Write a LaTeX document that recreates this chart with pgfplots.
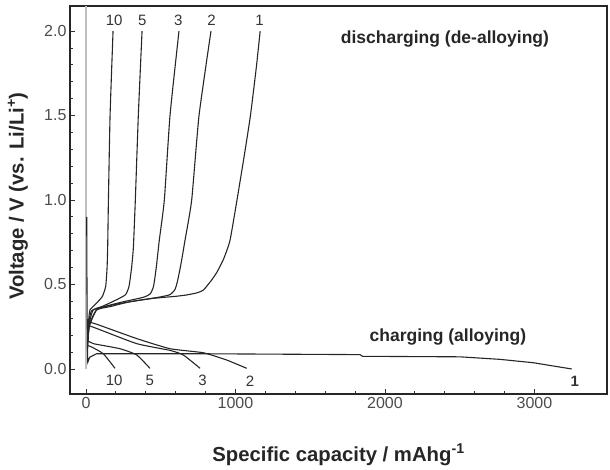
\documentclass[border=0pt]{standalone}
\usepackage{fontspec}
\setmainfont{Liberation Sans}
\usepackage{pgfplots}
\pgfplotsset{compat=1.18}
\pgfplotsset{curve/.style={draw=black!85, solid, line width=1.1bp, smooth, tension=0.3, no marks}}
\begin{document}
\begin{tikzpicture}
\begin{axis}[
  at={(0,0)}, anchor=south west,
  scale only axis, width=537bp, height=388bp,
  xmin=-107, xmax=3485, ymin=-0.148, ymax=2.148,
  axis line style={line width=1.5bp, black!85},
  tick align=inside, xtick pos=bottom, ytick pos=left,
  xtick={0,1000,2000,3000}, ytick={0,0.5,1,1.5,2},
  minor x tick num=4, minor y tick num=4,
  major tick length=5bp, minor tick length=3bp,
  tick style={black!80, line width=0.8bp},
  /pgf/number format/assume math mode=true,
  /pgf/number format/1000 sep={},
  yticklabel style={/pgf/number format/.cd, fixed, fixed zerofill, precision=1},
  ticklabel style={font=\fontsize{16bp}{18bp}\selectfont, text=black!70},
  xlabel={Specific capacity / mAhg\textsuperscript{-1}},
  ylabel={Voltage / V (vs. Li/Li\textsuperscript{+})},
  label style={font=\fontsize{20.3bp}{23bp}\selectfont\bfseries, text=black!85},
  xlabel style={at={(axis description cs:0.5,-0.157)}, anchor=center},
  ylabel style={at={(axis description cs:-0.097,0.51)}, anchor=center},
  clip=true,
]
% gray vertical line at zero capacity
\addplot[draw=black!25, line width=1.2bp, sharp plot, no marks] coordinates {(0,0.0) (0,2.15)};
% ---------- discharging (de-alloying) ----------
% cycle 1
\addplot[curve] coordinates {(10,0.12) (22,0.25) (71,0.349) (161,0.369) (294,0.398) (450,0.418) (600,0.430) (673,0.438) (740,0.45) (785,0.467) (835,0.52) (874,0.57) (920,0.65) (963,0.76) (1010,1.0) (1060,1.27) (1100,1.5) (1140,1.79) (1165,2.0)};
% cycle 2
\addplot[curve] coordinates {(10,0.13) (22,0.26) (71,0.35) (181,0.38) (339,0.404) (495,0.426) (562,0.44) (595,0.47) (612,0.52) (635,0.62) (662,0.76) (707,1.0) (756,1.5) (836,2.0)};
% cycle 3
\addplot[curve] coordinates {(10,0.14) (22,0.27) (49,0.35) (138,0.373) (250,0.398) (383,0.424) (430,0.445) (452,0.49) (470,0.6) (490,0.76) (524,1.0) (562,1.5) (622,2.0)};
% cycle 5
\addplot[curve] coordinates {(10,0.15) (20,0.28) (38,0.345) (116,0.373) (205,0.41) (265,0.44) (288,0.49) (305,0.6) (317,0.72) (330,1.0) (350,1.5) (375,2.0)};
% cycle 10
\addplot[curve] coordinates {(10,0.16) (18,0.29) (27,0.35) (71,0.39) (110,0.43) (132,0.49) (141,0.6) (145,0.72) (150,1.0) (161,1.5) (181,2.0)};
% ---------- charging (alloying) ----------
% cycle 1
\addplot[curve, sharp plot] coordinates {(5,0.9) (6,0.6) (8,0.3) (10,0.12) (12,0.04) (25,0.07) (70,0.09) (800,0.09) (1833,0.085) (1850,0.075) (2500,0.072) (2769,0.057) (2992,0.037) (3249,0.0)};
% cycle 2
\addplot[curve] coordinates {(8,0.28) (71,0.265) (339,0.18) (562,0.12) (785,0.096) (941,0.053) (1075,0.004)};
% cycle 3
\addplot[curve] coordinates {(8,0.26) (71,0.24) (339,0.15) (562,0.11) (651,0.083) (763,0.004)};
% cycle 5
\addplot[curve] coordinates {(8,0.17) (49,0.15) (227,0.12) (339,0.083) (428,0.004)};
% cycle 10
\addplot[curve] coordinates {(8,0.14) (38,0.13) (116,0.09) (194,0.004)};
% ---------- annotations ----------
\node[font=\fontsize{17.5bp}{20bp}\selectfont\bfseries, text=black!85] at (axis cs:2401,1.95) {discharging (de-alloying)};
\node[font=\fontsize{17.5bp}{20bp}\selectfont\bfseries, text=black!85] at (axis cs:2421,0.19) {charging (alloying)};
\begin{scope}[every node/.style={font=\fontsize{15bp}{18bp}\selectfont, text=black!80}]
\node at (axis cs:188,2.065) {10};
\node at (axis cs:376,2.065) {5};
\node at (axis cs:617,2.065) {3};
\node at (axis cs:839,2.065) {2};
\node at (axis cs:1161,2.065) {1};
\node at (axis cs:188,-0.07) {10};
\node at (axis cs:426,-0.07) {5};
\node at (axis cs:779,-0.07) {3};
\node at (axis cs:1097,-0.07) {2};
\node[font=\fontsize{15bp}{18bp}\selectfont\bfseries] at (axis cs:3270,-0.075) {1};
\end{scope}
\end{axis}
\path[use as bounding box] (-70bp,-74bp) rectangle (540bp,394bp);
\end{tikzpicture}
\end{document}
